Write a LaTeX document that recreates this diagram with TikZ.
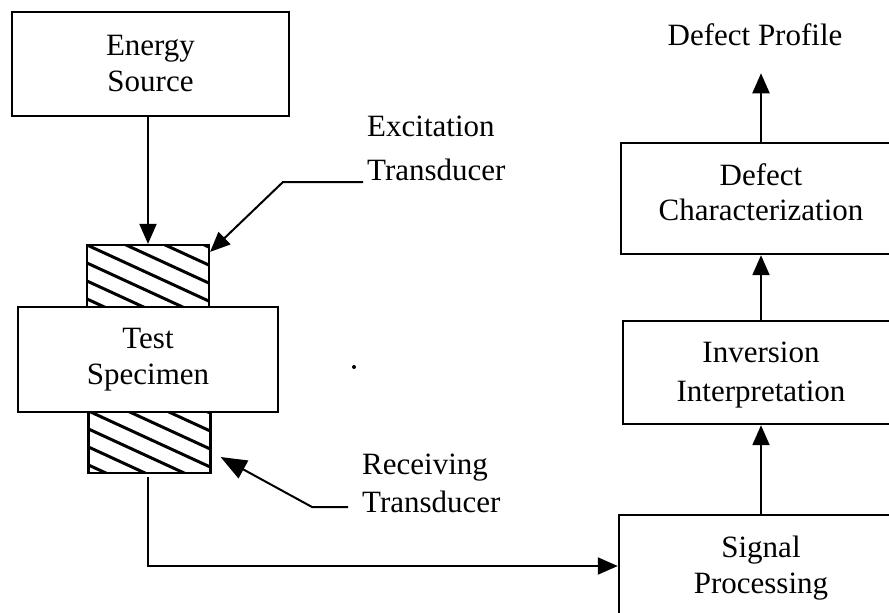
\documentclass[tikz,border=0pt]{standalone}
\usepackage{fontspec}
\setmainfont{Liberation Serif}
\usetikzlibrary{arrows.meta,calc}
\begin{document}
\begin{tikzpicture}[x=1pt,y=-1pt,
  box/.style={draw,line width=2.4pt,rectangle,inner sep=0pt,fill=white},
  txt/.style={font=\fontsize{31}{36}\selectfont,align=center,inner sep=0pt},
  hatchbox/.style={draw,line width=2.2pt,rectangle,inner sep=0pt,
    minimum width=122pt,minimum height=62pt,
    path picture={\foreach \k in {-4,...,4}{
      \draw[line width=3pt]
        ($(path picture bounding box.north west)+(-5,\k*18-2.3)$) -- ++(140,64.4);}}},
  arr/.style={line width=2pt,-{Triangle[length=20pt,width=17pt]}},
  lead/.style={line width=2pt}]
\useasboundingbox (0,0) rectangle (889,613);
\clip (0,0) rectangle (889,613);

% left column: source, transducers and specimen
\node[box,txt,minimum width=277pt,minimum height=104pt] (energy) at (150.5,64) {Energy\\Source};
\node[hatchbox] (hatchtop) at (148,276) {};
\node[hatchbox] (hatchbot) at (149.5,442) {};
\node[box,txt,minimum width=260pt,minimum height=105pt] (spec) at (148,359.5) {Test\\Specimen};

% transducer labels
\node[txt,align=left,font=\fontsize{31}{44}\selectfont,anchor=west] (exc) at (367,148.5) {Excitation\\Transducer};
\node[txt,align=left,font=\fontsize{31}{38}\selectfont,anchor=west] (rec) at (362,483.5) {Receiving\\Transducer};

% right column: processing chain (boxes run past the page edge)
\node[box,minimum width=291pt,minimum height=115pt] (sig) at (764.5,572.5) {};
\node[box,minimum width=287pt,minimum height=103pt] (inv) at (766.5,372.5) {};
\node[box,minimum width=289pt,minimum height=111pt] (dc) at (765.5,198.5) {};
\node[txt] (sigtxt) at (761,568) {Signal\\Processing};
\node[txt,font=\fontsize{31}{39}\selectfont] (invtxt) at (761,375.5) {Inversion\\Interpretation};
\node[txt,font=\fontsize{31}{35}\selectfont] (dctxt) at (761,192) {Defect\\Characterization};
\node[txt] (profile) at (755,35) {Defect Profile};

% connectors
\draw[arr] (hatchtop.north |- energy.south) -- (hatchtop.north);
\coordinate (excA) at (363,182);
\coordinate (excB) at (283,182);
\draw[arr] (excA) -- (excB) -- ([yshift=-8pt]hatchtop.north east);
\coordinate (recA) at (348,507);
\coordinate (recB) at (312,507);
\draw[arr,-{Triangle[length=26pt,width=20pt]}] (recA) -- (recB) -- ([xshift=9pt,yshift=-15pt]hatchbot.east);
\coordinate (turn) at (148,566);
\draw[arr] ([yshift=-3pt]hatchbot.south -| turn) -- (turn) -- (turn -| sig.west);
\draw[arr] (sigtxt |- sig.north) -- (sigtxt |- inv.south);
\draw[arr] (invtxt |- inv.north) -- (invtxt |- dc.south);
\draw[arr,shorten >=27pt] (dctxt |- dc.north) -- (dctxt |- profile.south);

% small mark beside the specimen
\fill (354,367) circle (2pt);
\end{tikzpicture}
\end{document}
